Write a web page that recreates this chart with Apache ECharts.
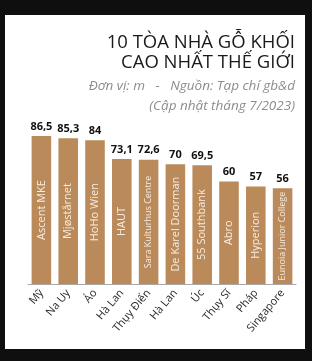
<!DOCTYPE html>
<html><head><meta charset="utf-8">
<script src="https://cdn.jsdelivr.net/npm/echarts@6/dist/echarts.min.js"></script>
<style>html,body{margin:0;padding:0;background:#0f0f0f}#c{width:312px;height:361px}</style>
</head><body><div id="c"></div>
<script>
var countries = ['Mỹ','Na Uy','Áo','Hà Lan','Thụy Điển','Hà Lan','Úc','Thụy Sĩ','Pháp','Singapore'];
var buildings = ['Ascent MKE','Mjøstårnet','HoHo Wien','HAUT','Sara Kulturhus Centre','De Karel Doorman','55 Southbank','Abro','Hyperion','Eunoia Junior College'];
var heights = [86.5,85.3,84,73.1,72.6,70,69.5,60,57,56];
var titleLines = ['10 TÒA NHÀ GỖ KHỐI','CAO NHẤT THẾ GIỚI'];
var subLines = ['Đơn vị: m   -   Nguồn: Tạp chí gb&d','(Cập nhật tháng 7/2023)'];

var FONT = 'Open Sans';
var chart = echarts.init(document.getElementById('c'), null, {renderer:'canvas'});
var nameData = buildings.map(function(n,i){
  var fs = n.length > 20 ? 9 : (n.length > 18 ? 10.5 : 11);
  return {value: heights[i], label:{fontSize: fs}};
});
chart.setOption({
  backgroundColor:'#0f0f0f',
  animation:false,
  graphic:[
    {type:'rect', z:-10, shape:{x:5,y:15,width:300,height:334}, style:{fill:'#ffffff'}},
    {type:'text', right:17, top:33, style:{text:titleLines[0], font:'400 18.5px "'+FONT+'"', fill:'#1a1a1a', textAlign:'right'}},
    {type:'text', right:17, top:53, style:{text:titleLines[1], font:'400 18.5px "'+FONT+'"', fill:'#1a1a1a', textAlign:'right'}},
    {type:'text', right:17, top:79, style:{text:subLines[0], font:'italic 400 13.5px "'+FONT+'"', fill:'#8c8c8c', textAlign:'right'}},
    {type:'text', right:17, top:99, style:{text:subLines[1], font:'italic 400 13.5px "'+FONT+'"', fill:'#8c8c8c', textAlign:'right'}}
  ],
  grid:{left:28, right:16, top:113, bottom:77},
  xAxis:{type:'category', data:countries,
    axisLine:{lineStyle:{color:'#a8a8a8'}},
    axisTick:{inside:true, length:3, lineStyle:{color:'#a8a8a8'}},
    axisLabel:{rotate:50, interval:0, color:'#2a2a2a', fontSize:11, fontFamily:FONT, margin:7}
  },
  yAxis:{type:'value', min:0, max:100, show:false, splitLine:{show:false}},
  series:[
    {type:'bar', data:heights, barWidth:'73%', itemStyle:{color:'#BA8A5B'},
     label:{show:true, position:'top', distance:4, color:'#111', fontWeight:'bold', fontSize:11, fontFamily:FONT,
       formatter:function(p){return String(p.value).replace('.',',');}}},
    {type:'bar', data:nameData, barWidth:'73%', barGap:'-100%', itemStyle:{color:'rgba(0,0,0,0)'},
     label:{show:true, position:'inside', rotate:90, color:'#f7ece0', fontFamily:FONT, fontSize:11,
       formatter:function(p){return buildings[p.dataIndex];}}}
  ]
});
</script></body></html>
